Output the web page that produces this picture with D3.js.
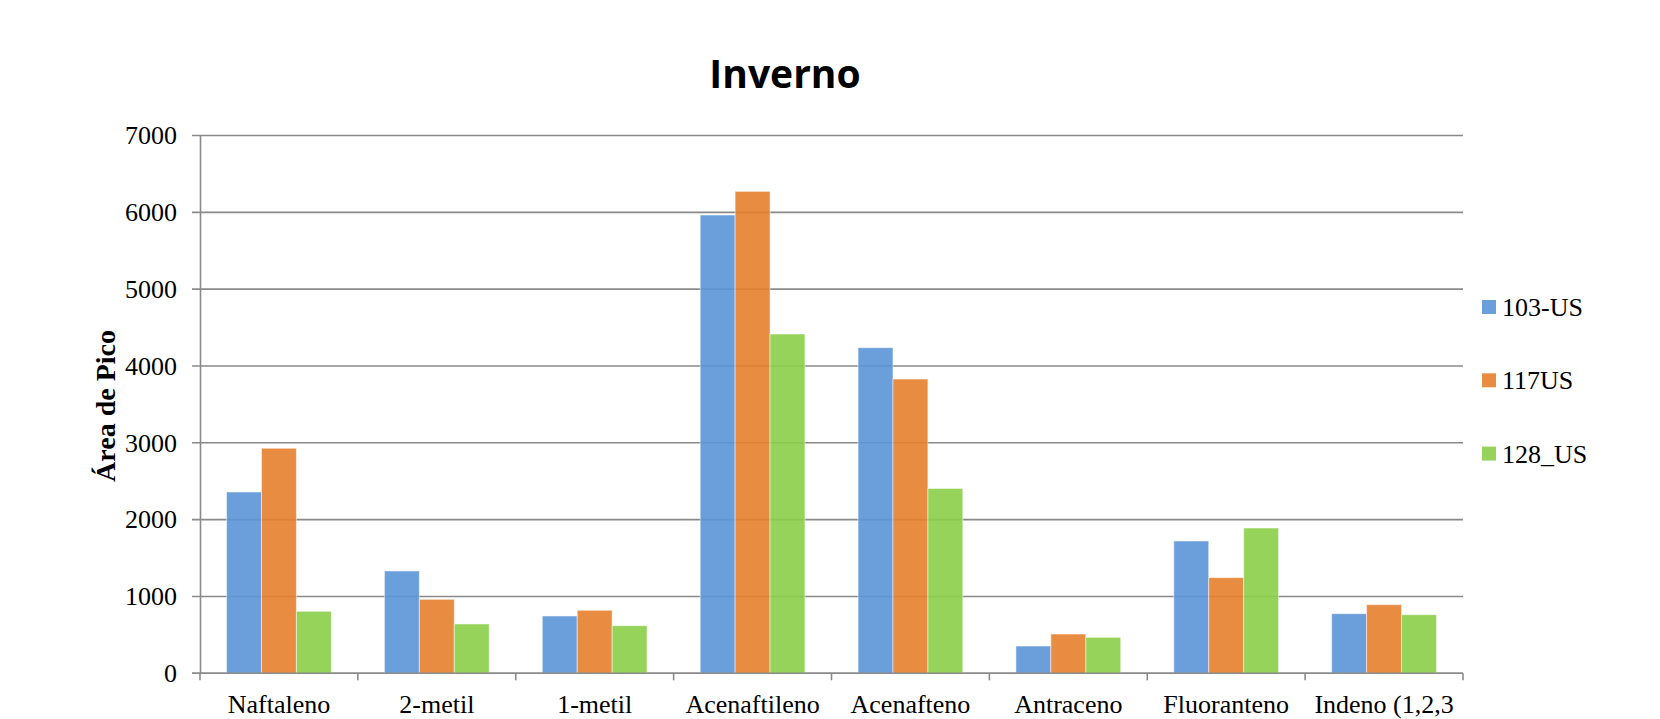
<!DOCTYPE html>
<html>
<head>
<meta charset="utf-8">
<script src="https://cdn.jsdelivr.net/npm/d3@7"></script>
<style>
  body { margin: 0; background: #fff; }
  svg { display: block; }
</style>
</head>
<body>
<svg id="chart"></svg>
<script>
const categories = ['Naftaleno', '2-metil', '1-metil', 'Acenaftileno', 'Acenafteno', 'Antraceno', 'Fluoranteno', 'Indeno (1,2,3']
const seriesNames = ['103-US', '117US', '128_US']
const s103 = [2360, 1332, 746, 5965, 4238, 355, 1722, 776]
const s117 = [2929, 963, 820, 6273, 3830, 511, 1245, 893]
const s128 = [807, 642, 620, 4416, 2406, 468, 1891, 763]
const yTicks = [0, 1000, 2000, 3000, 4000, 5000, 6000, 7000]
const colors = ['#5b95d7', '#e67f2c', '#8bce48']

const width = 1660
const height = 719
const plotLeft = 200, plotRight = 1463, plotTop = 135.5, plotBottom = 673.3

const svg = d3.select('#chart')
  .attr('width', width)
  .attr('height', height)

const allSeries = [s103, s117, s128]

const x0 = d3.scaleBand()
  .domain(categories)
  .range([plotLeft, plotRight])

const x1 = d3.scaleBand()
  .domain(seriesNames)
  .range([0, x0.bandwidth()])
  .paddingOuter(0.76)

const y = d3.scaleLinear()
  .domain([0, 7000])
  .range([plotBottom, plotTop])

// title
svg.append('text')
  .attr('x', 785)
  .attr('y', 88)
  .attr('text-anchor', 'middle')
  .style('font-family', '"Open Sans", sans-serif')
  .style('font-weight', 'bold')
  .style('font-size', '39px')
  .text('Inverno')

// gridlines
svg.append('g')
  .selectAll('line')
  .data(yTicks)
  .enter()
  .append('line')
  .attr('x1', plotLeft - 8)
  .attr('x2', plotRight)
  .attr('y1', d => y(d))
  .attr('y2', d => y(d))
  .attr('stroke', '#8a8a8a')
  .attr('stroke-width', 1.6)

// y axis
const yAxis = d3.axisLeft(y).tickValues(yTicks).tickFormat(d3.format('d')).tickSize(0).tickPadding(23)
const yg = svg.append('g')
  .attr('transform', `translate(${plotLeft},0)`)
  .call(yAxis)
yg.select('.domain').attr('stroke', '#8a8a8a').attr('stroke-width', 1.6)
yg.selectAll('text')
  .style('font-family', '"Liberation Serif", "Times New Roman", serif')
  .style('font-size', '26px')
  .attr('fill', '#000')

// bars
const groups = svg.append('g')
  .selectAll('g')
  .data(categories)
  .enter()
  .append('g')
  .attr('transform', d => `translate(${x0(d)},0)`)

groups.selectAll('rect')
  .data((d, i) => seriesNames.map((s, j) => ({ s: s, v: allSeries[j][i], j: j })))
  .enter()
  .append('rect')
  .attr('x', d => x1(d.s))
  .attr('width', x1.bandwidth())
  .attr('y', d => y(d.v))
  .attr('height', d => y(0) - y(d.v))
  .attr('fill', d => colors[d.j])
  .attr('fill-opacity', 0.9)
  .attr('stroke', '#fff')
  .attr('stroke-opacity', 0.5)
  .attr('stroke-width', 1)

// x axis
const xAxis = d3.axisBottom(x0).tickSize(0).tickPadding(21)
const xg = svg.append('g')
  .attr('transform', `translate(0,${plotBottom})`)
  .call(xAxis)
xg.select('.domain').remove()
xg.append('line')
  .attr('x1', plotLeft - 8).attr('x2', plotRight)
  .attr('stroke', '#8a8a8a').attr('stroke-width', 1.6)
xg.selectAll('.tickmark')
  .data(d3.range(categories.length + 1))
  .enter()
  .append('line')
  .attr('class', 'tickmark')
  .attr('x1', i => plotLeft + i * x0.step())
  .attr('x2', i => plotLeft + i * x0.step())
  .attr('y1', 0).attr('y2', 7)
  .attr('stroke', '#8a8a8a').attr('stroke-width', 1.6)
xg.selectAll('text')
  .style('font-family', '"Liberation Serif", "Times New Roman", serif')
  .style('font-size', '26px')
  .attr('fill', '#000')

// y title
svg.append('text')
  .attr('transform', 'translate(115,406) rotate(-90)')
  .attr('text-anchor', 'middle')
  .style('font-family', '"Liberation Serif", "Times New Roman", serif')
  .style('font-weight', 'bold')
  .style('font-size', '28px')
  .text('Área de Pico')

// legend
const legend = svg.append('g')
  .selectAll('g')
  .data(seriesNames)
  .enter()
  .append('g')
  .attr('transform', (d, i) => `translate(1482,${300 + i * 73.3})`)

legend.append('rect')
  .attr('width', 14)
  .attr('height', 14)
  .attr('fill', (d, i) => colors[i])
  .attr('fill-opacity', 0.9)

legend.append('text')
  .attr('x', 20)
  .attr('y', 16)
  .style('font-family', '"Liberation Serif", "Times New Roman", serif')
  .style('font-size', '26px')
  .text(d => d)
</script>
</body>
</html>
